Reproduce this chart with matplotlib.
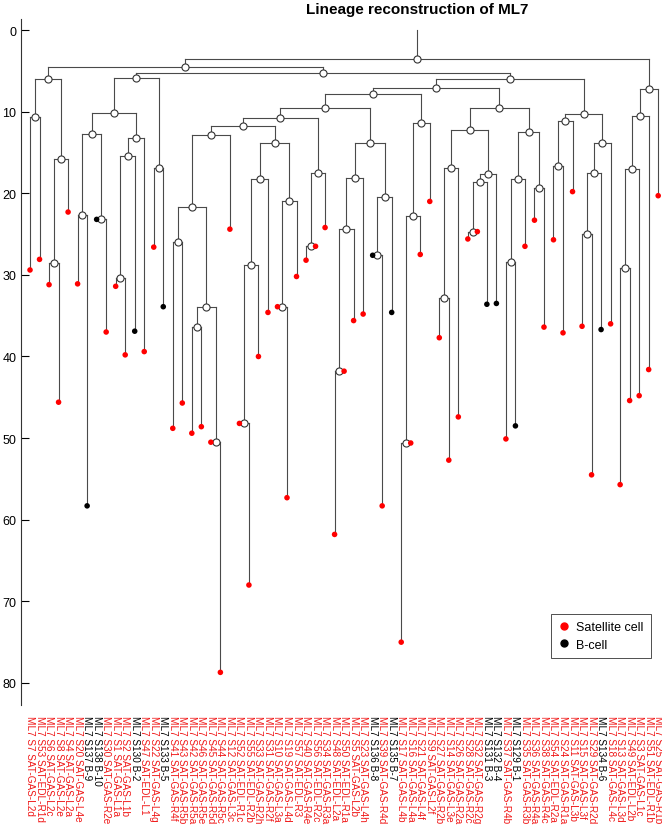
import matplotlib.pyplot as plt
from matplotlib.lines import Line2D

plt.rcParams['font.family'] = ['Liberation Sans', 'DejaVu Sans']

# leaves, left to right
leaf_labels = [
    "ML7 S7 SAT-GAS-L2d", "ML7 S53 SAT-EDL-R1d", "ML7 S6 SAT-GAS-L2c", "ML7 S8 SAT-GAS-L2e",
    "ML7 S4 SAT-GAS-L2a", "ML7 S20 SAT-GAS-L4e", "ML7 S137 B-9", "ML7 S138 B-10",
    "ML7 S30 SAT-GAS-R2e", "ML7 S1 SAT-GAS-L1a", "ML7 S2 SAT-GAS-L1b", "ML7 S130 B-2",
    "ML7 S47 SAT-EDL-L1", "ML7 S22 SAT-GAS-L4g", "ML7 S133 B-5", "ML7 S41 SAT-GAS-R4f",
    "ML7 S43 SAT-GAS-R5b", "ML7 S42 SAT-GAS-R5a", "ML7 S46 SAT-GAS-R5e", "ML7 S45 SAT-GAS-R5d",
    "ML7 S44 SAT-GAS-R5c", "ML7 S12 SAT-GAS-L3c", "ML7 S52 SAT-EDL-R1c", "ML7 S55 SAT-EDL-R2b",
    "ML7 S33 SAT-GAS-R2h", "ML7 S31 SAT-GAS-R2f", "ML7 S10 SAT-GAS-L3a", "ML7 S19 SAT-GAS-L4d",
    "ML7 S57 SAT-EDL-R3", "ML7 S40 SAT-GAS-R4e", "ML7 S56 SAT-EDL-R2c", "ML7 S34 SAT-GAS-R3a",
    "ML7 S48 SAT-EDL-L2a", "ML7 S50 SAT-EDL-R1a", "ML7 S5 SAT-GAS-L2b", "ML7 S23 SAT-GAS-L4h",
    "ML7 S136 B-8", "ML7 S39 SAT-GAS-R4d", "ML7 S135 B-7", "ML7 S17 SAT-GAS-L4b",
    "ML7 S16 SAT-GAS-L4a", "ML7 S21 SAT-GAS-L4f", "ML7 S9 SAT-GAS-L2f", "ML7 S27 SAT-GAS-R2b",
    "ML7 S14 SAT-GAS-L3e", "ML7 S26 SAT-GAS-R2a", "ML7 S28 SAT-GAS-R2c", "ML7 S32 SAT-GAS-R2g",
    "ML7 S131 B-3", "ML7 S132 B-4", "ML7 S37 SAT-GAS-R4b", "ML7 S129 B-1",
    "ML7 S35 SAT-GAS-R3b", "ML7 S36 SAT-GAS-R4a", "ML7 S38 SAT-GAS-R4c", "ML7 S54 SAT-EDL-R2a",
    "ML7 S24 SAT-GAS-R1a", "ML7 S11 SAT-GAS-L3b", "ML7 S15 SAT-GAS-L3f", "ML7 S29 SAT-GAS-R2d",
    "ML7 S134 B-6", "ML7 S18 SAT-GAS-L4c", "ML7 S13 SAT-GAS-L3d", "ML7 S49 SAT-EDL-L2b",
    "ML7 S3 SAT-GAS-L1c", "ML7 S51 SAT-EDL-R1b", "ML7 S25 SAT-GAS-R1b",
]

leaf_depth = [
    29.4, 28.1, 31.2, 45.6, 22.3, 31.1, 58.3, 23.2, 37.0, 31.4,
    39.8, 36.9, 39.4, 26.6, 33.9, 48.8, 45.7, 49.4, 48.6, 50.5,
    78.7, 24.4, 48.2, 68.0, 40.0, 34.6, 33.9, 57.3, 30.2, 28.2,
    26.5, 24.2, 61.8, 41.8, 35.6, 34.8, 27.6, 58.3, 34.6, 75.0,
    50.6, 27.5, 21.0, 37.7, 52.7, 47.4, 25.6, 24.7, 33.6, 33.5,
    50.1, 48.5, 26.5, 23.3, 36.4, 25.7, 37.1, 19.8, 36.3, 54.5,
    36.7, 36.0, 55.7, 45.4, 44.8, 41.6, 20.3,
]

# internal nodes get ids 67, 68, ... in this order (like a linkage matrix)
merge_left = [
    0, 2, 68, 67, 5, 7, 71, 9, 74, 75, 73, 13, 77, 15, 17, 19, 81, 80, 84, 22,
    86, 87, 26, 89, 88, 85, 29, 93, 92, 32, 96, 97, 36, 99, 98, 95, 39, 103, 104, 102,
    43, 107, 46, 109, 110, 108, 50, 113, 53, 114, 112, 106, 55, 119, 58, 121, 122, 120, 118, 79,
    70, 62, 128, 129, 130, 127,
]
merge_right = [
    1, 3, 4, 69, 6, 8, 72, 10, 11, 12, 76, 14, 78, 16, 18, 20, 82, 83, 21, 23,
    24, 25, 27, 28, 90, 91, 30, 31, 94, 33, 34, 35, 37, 38, 100, 101, 40, 41, 42, 105,
    44, 45, 47, 48, 49, 111, 51, 52, 54, 115, 116, 117, 56, 57, 59, 60, 61, 123, 124, 125,
    126, 63, 64, 65, 66, 131,
]
merge_depth = [
    10.6, 28.5, 15.8, 5.96, 22.7, 23.2, 12.7, 30.4, 15.4, 13.2,
    10.2, 16.9, 5.9, 26.0, 36.4, 50.5, 33.9, 21.7, 12.9, 48.2,
    28.8, 18.2, 33.9, 20.9, 13.8, 11.7, 26.5, 17.5, 10.8, 41.8,
    24.4, 18.1, 27.6, 20.4, 13.8, 9.5, 50.6, 22.8, 11.4, 7.9,
    32.8, 16.9, 24.7, 18.6, 17.7, 12.3, 28.4, 18.2, 19.3, 12.5,
    9.6, 7.1, 16.7, 11.2, 25.0, 17.5, 13.8, 10.3, 5.96, 5.3,
    4.5, 29.2, 17.0, 10.5, 7.2, 3.55,
]

y_ticks = [0, 10, 20, 30, 40, 50, 60, 70, 80]

line_col = '#4a4a4a'

n = len(leaf_labels)
xs = list(range(n))
ys = list(leaf_depth)
for l, r, d in zip(merge_left, merge_right, merge_depth):
    xs.append((xs[l] + xs[r]) / 2)
    ys.append(d)

fig = plt.figure(figsize=(6.62, 8.37), dpi=100)
ax = fig.add_axes([20.5 / 662, 1 - 706 / 837, 1 - 20.5 / 662, 686 / 837])

for l, r, d in zip(merge_left, merge_right, merge_depth):
    ax.plot([xs[l], xs[r]], [d, d], color=line_col, lw=0.8, zorder=1)
    ax.plot([xs[l], xs[l]], [d, ys[l]], color=line_col, lw=0.8, zorder=1)
    ax.plot([xs[r], xs[r]], [d, ys[r]], color=line_col, lw=0.8, zorder=1)
# stem above the root
ax.plot([xs[-1], xs[-1]], [0, ys[-1]], color=line_col, lw=0.8, zorder=1)

is_bcell = ['B-' in s for s in leaf_labels]
leaf_cols = ['black' if b else '#ff0000' for b in is_bcell]
ax.scatter(xs[:n], ys[:n], s=16, c=leaf_cols, linewidths=0, zorder=3)
ax.scatter(xs[n:], ys[n:], s=26, facecolor='white', edgecolor='#333333',
           linewidths=0.8, zorder=2)

ax.set_xlim(-1.0, 66.4)
ax.set_ylim(82.7, -1.35)
ax.set_yticks(y_ticks)
ax.set_xticks(range(n))
ax.set_xticklabels(leaf_labels, rotation=-90, fontsize=7.2, va='top', ha='center')
for lab, col in zip(ax.get_xticklabels(), leaf_cols):
    lab.set_color('#f01818' if col != 'black' else 'black')
ax.tick_params(axis='x', length=0, pad=7)
ax.tick_params(axis='y', direction='in', length=5.5, width=0.8, labelsize=9, pad=3)
for side in ['top', 'right', 'bottom']:
    ax.spines[side].set_visible(False)
ax.spines['left'].set_linewidth(0.8)
ax.spines['left'].set_color('#333333')

ax.text(xs[-1], 1.0146, "Lineage reconstruction of ML7", transform=ax.get_xaxis_transform(),
        ha='center', va='center', fontsize=11, fontweight='bold')

handles = [
    Line2D([], [], marker='o', ls='', color='#ff0000', ms=5, label='Satellite cell'),
    Line2D([], [], marker='o', ls='', color='black', ms=5, label='B-cell'),
]
leg = ax.legend(handles=handles, loc='lower right', bbox_to_anchor=(0.992, 0.06),
                fontsize=9, frameon=True, fancybox=False, handlelength=1.0,
                handletextpad=0.5, borderpad=0.55, labelspacing=0.45)
leg.get_frame().set_edgecolor('black')
leg.get_frame().set_linewidth(0.6)

fig.savefig('out.png', dpi=100)
